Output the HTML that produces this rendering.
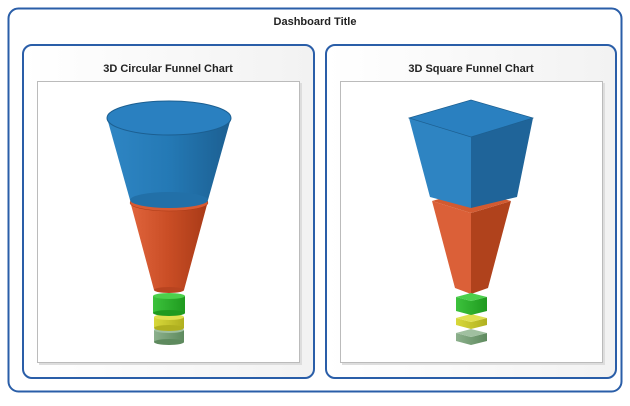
<!DOCTYPE html><html><head><style>body{margin:0;background:#fff;width:630px;height:401px;overflow:hidden}</style></head><body>
<svg width="630" height="401" xmlns="http://www.w3.org/2000/svg" font-family="Liberation Sans, sans-serif">
<defs>
<linearGradient id="bl" x1="0" x2="1"><stop offset="0" stop-color="#2f86c4"/><stop offset="0.5" stop-color="#2479b5"/><stop offset="1" stop-color="#1c5f91"/></linearGradient>
<linearGradient id="or" x1="0" x2="1"><stop offset="0" stop-color="#e0643c"/><stop offset="0.5" stop-color="#c94d25"/><stop offset="1" stop-color="#a83a17"/></linearGradient>
<linearGradient id="gr" x1="0" x2="1"><stop offset="0" stop-color="#3cc23c"/><stop offset="1" stop-color="#1f9a1f"/></linearGradient>
<linearGradient id="ye" x1="0" x2="1"><stop offset="0" stop-color="#d8d83a"/><stop offset="1" stop-color="#b0b020"/></linearGradient>
<linearGradient id="gy" x1="0" x2="1"><stop offset="0" stop-color="#8cb08c"/><stop offset="1" stop-color="#5e8a5e"/></linearGradient>
<linearGradient id="pb" x1="0" x2="1"><stop offset="0" stop-color="#fff"/><stop offset="1" stop-color="#f2f2f2"/></linearGradient>
</defs>
<rect x="8.5" y="8.5" width="613" height="383" rx="10" fill="#fff" stroke="#2a5ea8" stroke-width="2"/>
<text x="315" y="25" text-anchor="middle" font-size="11" font-weight="bold" fill="#222">Dashboard Title</text>
<rect x="23" y="45" width="291" height="333" rx="9" fill="url(#pb)" stroke="#2a5ea8" stroke-width="2"/>
<rect x="326" y="45" width="290" height="333" rx="9" fill="url(#pb)" stroke="#2a5ea8" stroke-width="2"/>
<text x="168" y="72" text-anchor="middle" font-size="11" font-weight="bold" fill="#222">3D Circular Funnel Chart</text>
<text x="471" y="72" text-anchor="middle" font-size="11" font-weight="bold" fill="#222">3D Square Funnel Chart</text>
<rect x="39" y="83" width="263" height="282" fill="#ddd"/>
<rect x="37.5" y="81.5" width="262" height="281" fill="#fff" stroke="#bbb"/>
<rect x="342" y="83" width="263" height="282" fill="#ddd"/>
<rect x="340.5" y="81.5" width="262" height="281" fill="#fff" stroke="#bbb"/>
<!-- circular -->
<path d="M130 201 L208 201 L184 290 L154 290 Z" fill="url(#or)"/>
<ellipse cx="169" cy="290" rx="15" ry="3" fill="#b84420"/>
<ellipse cx="169" cy="203" rx="39" ry="8" fill="#d85a32" stroke="#a83a17" stroke-width="0.5"/>
<path d="M107 118 L231 118 L208 200 L130 200 Z" fill="url(#bl)"/>
<ellipse cx="169" cy="200" rx="39" ry="8" fill="#2270a8"/>
<ellipse cx="169" cy="118" rx="62" ry="17" fill="#2a80c0" stroke="#1c5f91" stroke-width="1"/>
<rect x="154" y="330" width="30" height="12" fill="url(#gy)"/><ellipse cx="169" cy="342" rx="15" ry="3" fill="#5e8a5e"/><ellipse cx="169" cy="330" rx="15" ry="3" fill="#a0c0a0"/>
<rect x="154" y="317" width="30" height="11" fill="url(#ye)"/><ellipse cx="169" cy="328" rx="15" ry="3" fill="#b0b020"/><ellipse cx="169" cy="317" rx="15" ry="3" fill="#e0e050"/>
<rect x="153" y="296" width="32" height="17" fill="url(#gr)"/><ellipse cx="169" cy="313" rx="16" ry="3" fill="#1f9a1f"/><ellipse cx="169" cy="296" rx="16" ry="3" fill="#4cd04c"/>
<!-- square -->
<path d="M432 201 L471 213 L471 294 L455 288 Z" fill="#db6038"/>
<path d="M471 213 L511 201 L488 288 L471 294 Z" fill="#b0421c"/>
<path d="M432 201 L471 190 L511 201 L471 213 Z" fill="#d35a30"/>
<path d="M409 118 L471 137 L471 208 L430 197 Z" fill="#2e84c2"/>
<path d="M471 137 L533 118 L517 197 L471 208 Z" fill="#1f6499"/>
<path d="M409 118 L471 100 L533 118 L471 137 Z" fill="#2a80c0" stroke="#1c5f91" stroke-width="0.7"/>
<path d="M456 333 L471 337 L487 333 L487 341 L471 345 L456 341 Z" fill="url(#gy)"/><path d="M456 333 L471 329 L487 333 L471 337Z" fill="#a0c0a0"/>
<path d="M456 318 L471 322 L487 318 L487 325 L471 329 L456 325 Z" fill="url(#ye)"/><path d="M456 318 L471 314 L487 318 L471 322Z" fill="#e0e050"/>
<path d="M456 297 L471 301 L487 297 L487 311 L471 315 L456 311 Z" fill="url(#gr)"/><path d="M456 297 L471 293 L487 297 L471 301Z" fill="#4cd04c"/>
</svg></body></html>
